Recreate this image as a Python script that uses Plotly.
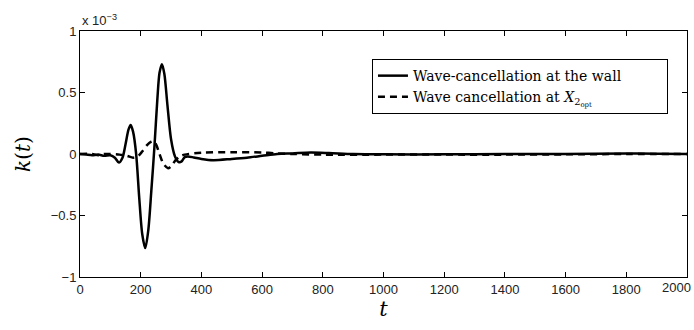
import plotly.graph_objects as go

# Solid: wave-cancellation at the wall (values in units of 1e-3)
t_wall = [0, 20, 40, 60, 80, 100, 115, 128, 140, 150, 160, 167, 175, 185, 195, 205, 215, 225, 235, 245,
          255, 262, 270, 278, 288, 300, 313, 325, 335, 345, 355, 375, 400, 440, 500, 550, 600, 650, 700,
          760, 820, 900, 1000, 1200, 1400, 1600, 1800, 1900, 2000]
k_wall = [0, -0.005, -0.01, -0.005, -0.015, -0.01, -0.03, -0.07, -0.03, 0.08, 0.2, 0.235, 0.18, 0.0,
          -0.35, -0.65, -0.765, -0.62, -0.3, 0.05, 0.45, 0.66, 0.73, 0.65, 0.4, 0.12, -0.02, -0.065,
          -0.06, -0.025, -0.02, -0.028, -0.04, -0.05, -0.04, -0.03, -0.015, 0.0, 0.005, 0.012, 0.008,
          0.0, -0.003, -0.003, 0.0, 0.0, 0.005, 0.003, 0.0]

# Dashed: wave cancellation at X2opt
t_opt = [0, 40, 60, 80, 100, 130, 155, 175, 190, 205, 220, 235, 243, 252, 262, 275, 290, 300, 315, 330,
         345, 400, 500, 600, 650, 700, 800, 1000, 1200, 1400, 1600, 1800, 2000]
k_opt = [0, 0, -0.01, 0.0, 0.0, -0.005, -0.015, -0.03, -0.02, 0.02, 0.07, 0.1, 0.105, 0.07, 0.0, -0.08,
         -0.115, -0.1, -0.05, -0.02, -0.005, 0.01, 0.015, 0.012, 0.005, 0.0, -0.005, -0.005, -0.005,
         -0.005, -0.003, 0.0, 0.0]

name_wall = "Wave-cancellation at the wall"
name_opt = "Wave cancellation at <i>X</i><sub>2<sub>opt</sub></sub>"

x_ticks = list(range(0, 2001, 200))
x_labels = [str(v) for v in x_ticks[:-1]] + [""]   # last label drawn separately so it stays inside
last_x_label = str(x_ticks[-1])
y_ticks = [-1, -0.5, 0, 0.5, 1]
y_labels = ["−1", "−0.5", "0", "0.5", "1"]

tick_font = dict(family="Liberation Sans, Arial, sans-serif", size=13, color="#222")
legend_pad = "&nbsp;" * 9   # widen the legend box like the reference

fig = go.Figure()
fig.add_trace(go.Scatter(x=t_wall, y=k_wall, mode="lines", name=name_wall + legend_pad,
                         line=dict(color="black", width=2.5, shape="spline", smoothing=0.8)))
fig.add_trace(go.Scatter(x=t_opt, y=k_opt, mode="lines", name=name_opt,
                         line=dict(color="black", width=2.5, dash="7px,5px", shape="spline", smoothing=0.8)))

axis_common = dict(showline=True, linecolor="black", linewidth=1, mirror="ticks", ticks="inside",
                   ticklen=5, tickcolor="black", showgrid=False, zeroline=False, automargin=False,
                   tickfont=tick_font)

fig.update_layout(
    width=694, height=330,
    margin=dict(l=80, r=7, t=31, b=53),
    paper_bgcolor="white", plot_bgcolor="white",
    xaxis=dict(range=[0, 2000], tickvals=x_ticks, ticktext=x_labels, **axis_common,
               title=dict(text="<i>t</i>", font=dict(family="DejaVu Serif, serif", size=21, color="black"),
                          standoff=2)),
    yaxis=dict(range=[-1, 1], tickvals=y_ticks, ticktext=y_labels, **axis_common,
               title=dict(text="<i>k</i>(<i>t</i>)", font=dict(family="DejaVu Serif, serif", size=20, color="black"),
                          standoff=14)),
    legend=dict(x=0.481, y=0.886, xanchor="left", yanchor="top", bgcolor="white",
                bordercolor="black", borderwidth=1,
                font=dict(family="DejaVu Serif, serif", size=14, color="black"),
                tracegroupgap=0),
    showlegend=True,
)
fig.add_annotation(x=0, y=1, xref="paper", yref="paper", xanchor="left", yanchor="bottom",
                   text="x 10<sup>−3</sup>", showarrow=False, yshift=1, font=tick_font)
fig.add_annotation(x=x_ticks[-1], y=0, xref="x", yref="paper", xanchor="right", yanchor="top",
                   text=last_x_label, showarrow=False, xshift=6, yshift=-1, font=tick_font)

fig.write_html("out.html", config={"displayModeBar": False},
               post_script="document.body.style.margin='0';document.body.style.padding='0';")
